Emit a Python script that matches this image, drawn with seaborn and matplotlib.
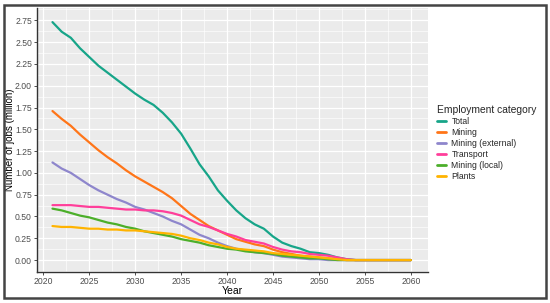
import numpy as np
import pandas as pd
import matplotlib
matplotlib.use("Agg")
import matplotlib.pyplot as plt
from matplotlib.patches import Rectangle
from matplotlib.ticker import MultipleLocator
import seaborn as sns

years = list(range(2021, 2061))

total = [2.73, 2.62, 2.55, 2.43, 2.33, 2.23, 2.15, 2.07, 1.99, 1.91,
         1.84, 1.78, 1.69, 1.58, 1.45, 1.28, 1.10, 0.96, 0.80, 0.68,
         0.57, 0.48, 0.41, 0.36, 0.27, 0.20, 0.16, 0.13, 0.09, 0.08,
         0.06, 0.03, 0.01, 0.0, 0.0, 0.0, 0.0, 0.0, 0.0, 0.0]
mining = [1.71, 1.62, 1.54, 1.44, 1.35, 1.26, 1.18, 1.11, 1.03, 0.96,
          0.90, 0.84, 0.78, 0.71, 0.62, 0.53, 0.46, 0.39, 0.34, 0.29,
          0.24, 0.21, 0.18, 0.16, 0.12, 0.09, 0.07, 0.05, 0.04, 0.03,
          0.02, 0.01, 0.0, 0.0, 0.0, 0.0, 0.0, 0.0, 0.0, 0.0]
mining_ext = [1.12, 1.05, 1.00, 0.93, 0.86, 0.80, 0.75, 0.70, 0.66, 0.61,
              0.58, 0.54, 0.50, 0.45, 0.41, 0.35, 0.29, 0.25, 0.20, 0.16,
              0.13, 0.11, 0.09, 0.08, 0.06, 0.04, 0.03, 0.02, 0.01, 0.01,
              0.0, 0.0, 0.0, 0.0, 0.0, 0.0, 0.0, 0.0, 0.0, 0.0]
transport = [0.63, 0.63, 0.63, 0.62, 0.61, 0.61, 0.60, 0.59, 0.58, 0.58,
             0.57, 0.57, 0.56, 0.54, 0.51, 0.46, 0.41, 0.38, 0.34, 0.30,
             0.27, 0.23, 0.21, 0.19, 0.15, 0.12, 0.10, 0.09, 0.07, 0.06,
             0.05, 0.03, 0.01, 0.0, 0.0, 0.0, 0.0, 0.0, 0.0, 0.0]
mining_local = [0.59, 0.57, 0.54, 0.51, 0.49, 0.46, 0.43, 0.41, 0.38, 0.36,
                0.33, 0.31, 0.29, 0.27, 0.24, 0.22, 0.20, 0.17, 0.15, 0.13,
                0.12, 0.10, 0.09, 0.08, 0.07, 0.05, 0.04, 0.03, 0.02, 0.02,
                0.01, 0.0, 0.0, 0.0, 0.0, 0.0, 0.0, 0.0, 0.0, 0.0]
plants = [0.39, 0.38, 0.38, 0.37, 0.36, 0.36, 0.35, 0.35, 0.34, 0.34,
          0.33, 0.32, 0.31, 0.30, 0.28, 0.25, 0.23, 0.20, 0.18, 0.15,
          0.13, 0.12, 0.11, 0.10, 0.08, 0.07, 0.06, 0.05, 0.04, 0.03,
          0.02, 0.01, 0.0, 0.0, 0.0, 0.0, 0.0, 0.0, 0.0, 0.0]

categories = ["Total", "Mining", "Mining (external)", "Transport", "Mining (local)", "Plants"]
colors = ["#17A589", "#FF7518", "#8E86CC", "#FF3E9A", "#4CAF2A", "#FFB300"]

# long format table for seaborn
series = [total, mining, mining_ext, transport, mining_local, plants]
df = pd.concat([pd.DataFrame({"Year": years, "Jobs": s, "Employment category": c})
                for s, c in zip(series, categories)], ignore_index=True)

sns.set_theme(style="darkgrid")
plt.rcParams["font.family"] = ["Liberation Sans", "DejaVu Sans"]

fig = plt.figure(figsize=(5.5, 3.03), dpi=100)
ax = fig.add_axes([0.067, 0.102, 0.711, 0.873])
ax.set_facecolor("#EBEBEB")

sns.lineplot(data=df, x="Year", y="Jobs", hue="Employment category",
             hue_order=categories, palette=colors, linewidth=1.6, ax=ax, legend=False)

ax.set_xlim(2019.3, 2061.85)
ax.set_ylim(-0.138, 2.897)
ax.set_xticks(range(2020, 2061, 5))
ax.set_yticks(np.arange(0, 2.76, 0.25))
ax.set_yticklabels([f"{v:.2f}" for v in np.arange(0, 2.76, 0.25)])
ax.xaxis.set_minor_locator(MultipleLocator(2.5))
ax.yaxis.set_minor_locator(MultipleLocator(0.125))
ax.grid(which="major", color="white", linewidth=0.9)
ax.grid(which="minor", color="white", linewidth=0.45)
ax.set_axisbelow(True)

for side in ["top", "right"]:
    ax.spines[side].set_visible(False)
for side in ["left", "bottom"]:
    ax.spines[side].set_visible(True)
    ax.spines[side].set_color("#333333")
    ax.spines[side].set_linewidth(1.0)

ax.tick_params(axis="both", which="major", length=2.5, width=0.6, color="#333333",
               labelsize=6.2, labelcolor="#4D4D4D", pad=1, bottom=True, left=True)
ax.tick_params(axis="both", which="minor", length=0)
ax.set_xlabel("Year", fontsize=7.5, color="black")
ax.set_ylabel("Number of jobs (million)", fontsize=7, color="black")
ax.xaxis.set_label_coords(0.501, -0.052)
ax.yaxis.set_label_coords(-0.055, 0.5)

handles = [plt.Line2D([], [], color=c, linewidth=2) for c in colors]
leg = fig.legend(handles, categories, title="Employment category",
                 loc="upper left", bbox_to_anchor=(0.794, 0.652), frameon=False,
                 fontsize=6.2, title_fontsize=7.4, handlelength=1.1, handletextpad=0.6,
                 labelspacing=0.22, borderaxespad=0, borderpad=0)
leg._legend_box.align = "left"

fig.patches.append(Rectangle((0.008, 0.018), 0.985, 0.965, transform=fig.transFigure,
                             fill=False, edgecolor="#444444", linewidth=1.8))

fig.savefig("out.png", dpi=100)
